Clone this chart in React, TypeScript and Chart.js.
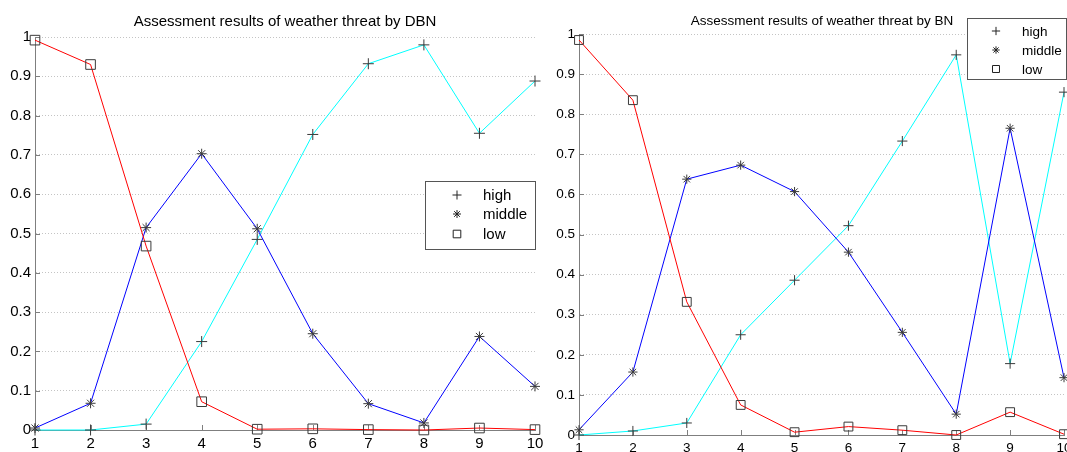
import React, { useEffect, useRef } from 'react';
import { Chart, registerables } from 'chart.js';

Chart.register(...registerables);

// ---------- data ----------
const xLabels = ['1', '2', '3', '4', '5', '6', '7', '8', '9', '10'];
const yTickLabels = ['0', '0.1', '0.2', '0.3', '0.4', '0.5', '0.6', '0.7', '0.8', '0.9', '1'];
const legendLabels = ['high', 'middle', 'low'];

const titleDBN = 'Assessment results of weather threat by DBN';
const titleBN = 'Assessment results of weather threat by BN';

const dbnHigh = [0, 0, 0.015, 0.225, 0.485, 0.752, 0.932, 0.98, 0.755, 0.888];
const dbnMiddle = [0.005, 0.068, 0.515, 0.703, 0.512, 0.245, 0.067, 0.018, 0.238, 0.111];
const dbnLow = [0.992, 0.93, 0.468, 0.072, 0.002, 0.003, 0.001, 0.0, 0.005, 0.001];

const bnHigh = [0, 0.01, 0.03, 0.25, 0.386, 0.522, 0.733, 0.948, 0.178, 0.855];
const bnMiddle = [0.013, 0.157, 0.638, 0.673, 0.607, 0.456, 0.256, 0.052, 0.765, 0.143];
const bnLow = [0.985, 0.835, 0.332, 0.075, 0.007, 0.021, 0.012, 0.0, 0.057, 0.002];

// ---------- styles ----------
const FONT = "'Liberation Sans', Arial, Helvetica, sans-serif";
const AXIS_COLOR = '#7f7f7f';
const GRID_COLOR = '#c4c4c4';
const MARKER_COLOR = '#3a3a3a';
const COLOR_HIGH = '#00ffff';
const COLOR_MIDDLE = '#0000ff';
const COLOR_LOW = '#ff0000';

type PanelCfg = {
  left: number;
  width: number;
  height: number;
  padTop: number;
  padRight: number;
  yAxisWidth: number;
  xAxisHeight: number;
  fontSize: number;
  xTickPad: number;
  title: string;
  titleX: number;
  titleBaseline: number;
  legend: { x: number; y: number; w: number; h: number; markerX: number; textX: number; rows: number[] };
  markerScale: number;
  high: number[];
  middle: number[];
  low: number[];
};

function drawMarker(ctx: CanvasRenderingContext2D, style: string, x: number, y: number, r: number) {
  ctx.beginPath();
  if (style === 'cross') {
    ctx.moveTo(x - r, y);
    ctx.lineTo(x + r, y);
    ctx.moveTo(x, y - r);
    ctx.lineTo(x, y + r);
  } else if (style === 'star') {
    ctx.moveTo(x - r, y);
    ctx.lineTo(x + r, y);
    ctx.moveTo(x, y - r);
    ctx.lineTo(x, y + r);
    const d = r * Math.SQRT1_2;
    ctx.moveTo(x - d, y - d);
    ctx.lineTo(x + d, y + d);
    ctx.moveTo(x - d, y + d);
    ctx.lineTo(x + d, y - d);
  } else {
    ctx.rect(x - r, y - r, 2 * r, 2 * r);
  }
  ctx.stroke();
}

function Panel({ cfg }: { cfg: PanelCfg }) {
  const ref = useRef<HTMLCanvasElement | null>(null);

  useEffect(() => {
    const canvas = ref.current;
    if (!canvas) return;
    const s = cfg.markerScale;

    const decor = {
      id: 'decor',
      beforeDatasetsDraw(chart: any) {
        const ctx: CanvasRenderingContext2D = chart.ctx;
        const xs = chart.scales.x;
        const ys = chart.scales.y;
        ctx.save();
        ctx.strokeStyle = AXIS_COLOR;
        ctx.lineWidth = 1;
        ctx.beginPath();
        for (let i = 0; i < xLabels.length; i++) {
          const px = Math.round(xs.getPixelForTick(i)) + 0.5;
          ctx.moveTo(px, ys.bottom);
          ctx.lineTo(px, ys.bottom - 5);
        }
        for (let i = 0; i < ys.ticks.length; i++) {
          const py = Math.round(ys.getPixelForTick(i)) + 0.5;
          ctx.moveTo(xs.left, py);
          ctx.lineTo(xs.left + 5, py);
        }
        ctx.stroke();
        ctx.restore();
      },
      afterDraw(chart: any) {
        const ctx: CanvasRenderingContext2D = chart.ctx;
        ctx.save();
        // title
        ctx.fillStyle = '#000';
        ctx.font = `${cfg.fontSize}px ${FONT}`;
        ctx.textAlign = 'center';
        ctx.textBaseline = 'alphabetic';
        ctx.fillText(cfg.title, cfg.titleX, cfg.titleBaseline);
        // legend
        const L = cfg.legend;
        ctx.fillStyle = '#fff';
        ctx.fillRect(L.x, L.y, L.w, L.h);
        ctx.strokeStyle = '#555';
        ctx.lineWidth = 1;
        ctx.strokeRect(L.x + 0.5, L.y + 0.5, L.w - 1, L.h - 1);
        const styles = ['cross', 'star', 'rect'];
        const radii = [4.5 * s, 4 * s, 3.8 * s];
        for (let i = 0; i < legendLabels.length; i++) {
          ctx.strokeStyle = '#222';
          ctx.lineWidth = 1;
          drawMarker(ctx, styles[i], L.markerX, L.rows[i], radii[i]);
          ctx.fillStyle = '#000';
          ctx.textAlign = 'left';
          ctx.textBaseline = 'middle';
          ctx.fillText(legendLabels[i], L.textX, L.rows[i] + 1);
        }
        ctx.restore();
      },
    };

    const common = {
      borderWidth: 1,
      tension: 0,
      fill: false,
      clip: false as any,
      pointBorderColor: MARKER_COLOR,
      pointBackgroundColor: 'rgba(0,0,0,0)',
      pointBorderWidth: 1,
    };

    const chart = new Chart(canvas, {
      type: 'line',
      data: {
        labels: xLabels,
        datasets: [
          { ...common, label: legendLabels[2], data: cfg.low, borderColor: COLOR_LOW, pointStyle: 'rect', pointRadius: 6.8 * s },
          { ...common, label: legendLabels[1], data: cfg.middle, borderColor: COLOR_MIDDLE, pointStyle: 'star', pointRadius: 5 * s },
          { ...common, label: legendLabels[0], data: cfg.high, borderColor: COLOR_HIGH, pointStyle: 'cross', pointRadius: 5.5 * s },
        ],
      },
      options: {
        responsive: false,
        maintainAspectRatio: false,
        animation: false,
        events: [],
        layout: { padding: { left: 0, right: cfg.padRight, top: cfg.padTop, bottom: 0 } },
        plugins: {
          legend: { display: false },
          title: { display: false },
          tooltip: { enabled: false },
        },
        scales: {
          x: {
            type: 'category',
            offset: false,
            grid: { display: false },
            border: { display: true, color: AXIS_COLOR, width: 1 },
            ticks: {
              color: '#000',
              font: { family: FONT, size: cfg.fontSize },
              padding: cfg.xTickPad,
              maxRotation: 0,
              autoSkip: false,
            },
            afterFit: (sc: any) => {
              sc.height = cfg.xAxisHeight;
              sc.paddingLeft = 0;
              sc.paddingRight = 0;
            },
          },
          y: {
            type: 'linear',
            min: 0,
            max: 1,
            grid: { display: true, color: GRID_COLOR, lineWidth: 1, drawTicks: false },
            border: { display: true, color: AXIS_COLOR, width: 1, dash: [1, 2] },
            ticks: {
              stepSize: 0.1,
              color: '#000',
              font: { family: FONT, size: cfg.fontSize },
              padding: 4,
              callback: (_v: any, i: number) => yTickLabels[i],
            },
            afterFit: (sc: any) => {
              sc.width = cfg.yAxisWidth;
              sc.paddingTop = 0;
              sc.paddingBottom = 0;
            },
          },
        },
      } as any,
      plugins: [decor],
    });

    return () => chart.destroy();
  }, [cfg]);

  return (
    <canvas
      ref={ref}
      width={cfg.width}
      height={cfg.height}
      style={{ position: 'absolute', left: cfg.left, top: 0, width: cfg.width, height: cfg.height }}
    />
  );
}

const leftCfg: PanelCfg = {
  left: 0,
  width: 555,
  height: 452,
  padTop: 37,
  padRight: 20,
  yAxisWidth: 35,
  xAxisHeight: 22,
  fontSize: 15,
  xTickPad: -3,
  title: titleDBN,
  titleX: 285,
  titleBaseline: 26,
  legend: { x: 425, y: 181, w: 111, h: 69, markerX: 457, textX: 483, rows: [195, 214, 234] },
  markerScale: 1,
  high: dbnHigh,
  middle: dbnMiddle,
  low: dbnLow,
};

const rightCfg: PanelCfg = {
  left: 540,
  width: 534,
  height: 452,
  padTop: 34,
  padRight: 10,
  yAxisWidth: 39,
  xAxisHeight: 17,
  fontSize: 13.5,
  xTickPad: -3,
  title: titleBN,
  titleX: 282,
  titleBaseline: 25,
  legend: { x: 427, y: 18, w: 100, h: 62, markerX: 456, textX: 482, rows: [31, 50, 69] },
  markerScale: 0.92,
  high: bnHigh,
  middle: bnMiddle,
  low: bnLow,
};

export default function App() {
  return (
    <div style={{ position: 'absolute', left: 0, top: 0, width: 1067, height: 452, background: '#fff', overflow: 'hidden' }}>
      <Panel cfg={leftCfg} />
      <Panel cfg={rightCfg} />
    </div>
  );
}
